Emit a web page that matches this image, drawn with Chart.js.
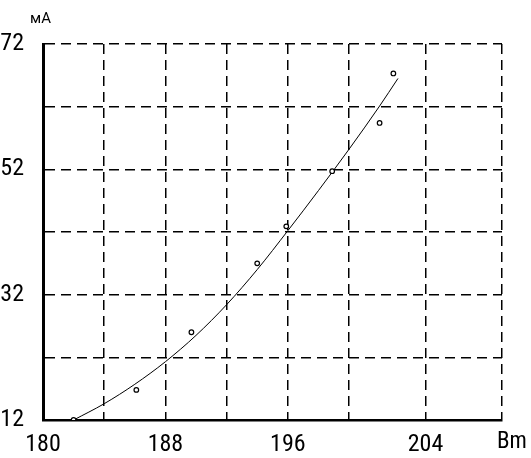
<!DOCTYPE html>
<html>
<head>
<meta charset="utf-8">
<script src="https://cdn.jsdelivr.net/npm/chart.js@4/dist/chart.umd.min.js"></script>
<style>
  html, body { margin:0; padding:0; background:#fff; }
  .wrap { width:531px; height:458px; position:relative; }
</style>
</head>
<body>
<div class="wrap"><canvas id="chart"></canvas></div>
<script>
// ======== DATA ========
const measX = [182.0, 186.1, 189.7, 194.0, 195.9, 198.9, 202.0, 202.9];
const measY = [12.0, 16.8, 26.0, 37.0, 42.9, 51.7, 59.4, 67.3];

const fitX = [182, 184, 186, 188, 190, 192, 194, 196, 198, 200, 202, 203.2];
const fitY = [12, 14.6, 17.7, 21.3, 25.5, 30.4, 36.0, 42.2, 48.6, 55.2, 62.1, 66.5];

const xTickValues = [180, 184, 188, 192, 196, 200, 205, 210];
const xTickLabels = ['180', '', '188', '', '196', '', '204', ''];
const yTickValues = [12, 22, 32, 42, 52, 62, 72];
const yTickLabels = ['12', '', '32', '', '52', '', '72'];

const yUnit = 'мА';
const xUnit = 'Bm';

// ======== CHART ========
const FONT = "'Roboto Condensed', 'Liberation Sans', sans-serif";

// unit captions (top-left and bottom-right)
const unitLabels = {
  id: 'unitLabels',
  afterDraw(chart) {
    const ctx = chart.ctx;
    ctx.save();
    ctx.fillStyle = '#000';
    ctx.textBaseline = 'alphabetic';
    ctx.textAlign = 'left';
    ctx.font = "15px Roboto, sans-serif";
    ctx.fillText(yUnit, 30, 23);
    ctx.font = "23px " + FONT;
    ctx.fillText(xUnit, 497, 448);
    ctx.restore();
  }
};

const toPts = (xs, ys) => xs.map((x, i) => ({ x, y: ys[i] }));

new Chart(document.getElementById('chart'), {
  type: 'scatter',
  data: {
    datasets: [
      {
        data: toPts(fitX, fitY),
        showLine: true,
        borderColor: '#000',
        borderWidth: 1,
        pointRadius: 0,
        cubicInterpolationMode: 'monotone',
        order: 2
      },
      {
        data: toPts(measX, measY),
        pointStyle: 'circle',
        pointRadius: 2.3,
        pointBackgroundColor: '#fff',
        pointBorderColor: '#000',
        pointBorderWidth: 1.2,
        order: 1
      }
    ]
  },
  options: {
    responsive: true,
    maintainAspectRatio: false,
    animation: false,
    layout: { padding: { top: 44, right: 29, left: 0, bottom: 0 } },
    plugins: { legend: { display: false }, tooltip: { enabled: false } },
    scales: {
      x: {
        type: 'linear',
        min: 180, max: 210,
        afterBuildTicks: s => { s.ticks = xTickValues.map(v => ({ value: v })); },
        afterFit: s => { s.height = 38; },
        ticks: {
          autoSkip: false, maxRotation: 0,
          color: '#000', padding: 11,
          font: { family: FONT, size: 24 },
          callback: (v) => xTickLabels[xTickValues.indexOf(v)] ?? ''
        },
        grid: { color: '#000', lineWidth: 1.5, drawTicks: false },
        border: { display: true, color: '#000', width: 2.5, dash: [10, 6] }
      },
      y: {
        type: 'linear',
        min: 12, max: 72,
        afterBuildTicks: s => { s.ticks = yTickValues.map(v => ({ value: v })); },
        afterFit: s => { s.width = 43; },
        ticks: {
          autoSkip: false,
          color: '#000', padding: 19,
          font: { family: FONT, size: 24 },
          callback: (v) => yTickLabels[yTickValues.indexOf(v)] ?? ''
        },
        grid: { color: '#000', lineWidth: 1.5, drawTicks: false },
        border: { display: true, color: '#000', width: 3, dash: [10, 6] }
      }
    }
  },
  plugins: [unitLabels]
});
</script>
</body>
</html>
